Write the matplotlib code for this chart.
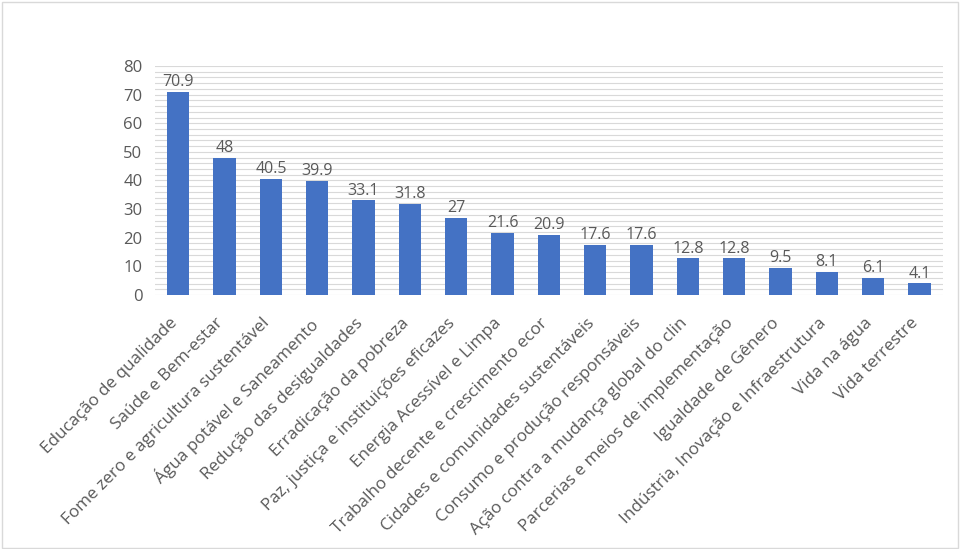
import matplotlib
matplotlib.use("Agg")
import matplotlib.pyplot as plt
from matplotlib.patches import Rectangle
from matplotlib.transforms import ScaledTranslation
import numpy as np

categories = [
    "Educação de qualidade",
    "Saúde e Bem-estar",
    "Fome zero e agricultura sustentável",
    "Água potável e Saneamento",
    "Redução das desigualdades",
    "Erradicação da pobreza",
    "Paz, justiça e instituições eficazes",
    "Energia Acessível e Limpa",
    "Trabalho decente e crescimento ecor",
    "Cidades e comunidades sustentáveis",
    "Consumo e produção responsáveis",
    "Ação contra a mudança global do clin",
    "Parcerias e meios de implementação",
    "Igualdade de Gênero",
    "Indústria, Inovação e Infraestrutura",
    "Vida na água",
    "Vida terrestre",
]
values = [70.9, 48, 40.5, 39.9, 33.1, 31.8, 27, 21.6, 20.9, 17.6, 17.6, 12.8, 12.8, 9.5, 8.1, 6.1, 4.1]
value_labels = ["70.9", "48", "40.5", "39.9", "33.1", "31.8", "27", "21.6", "20.9",
                "17.6", "17.6", "12.8", "12.8", "9.5", "8.1", "6.1", "4.1"]
yticks = [0, 10, 20, 30, 40, 50, 60, 70, 80]

plt.rcParams['font.family'] = ['Open Sans', 'DejaVu Sans']

fig = plt.figure(figsize=(9.6, 5.49), dpi=100)
fig.patches.append(Rectangle((0.002, 0.002), 0.996, 0.994, transform=fig.transFigure,
                             fill=False, edgecolor='#d9d9d9', linewidth=1))
ax = fig.add_axes([0.1615, 0.4627, 0.8205, 0.4171])

x = np.arange(len(categories))
bars = ax.bar(x, values, width=0.48, color='#4472C4', zorder=3)
for xi, v, lab in zip(x, values, value_labels):
    ax.text(xi, v + 0.6, lab, ha='center', va='bottom', fontsize=11.5, color='#595959', zorder=4)

ax.set_xlim(-0.5, len(categories) - 0.5)
ax.set_ylim(0, 80)
ax.set_yticks(yticks)
ax.set_yticks(np.arange(0, 81, 2), minor=True)
ax.grid(axis='y', which='both', color='#d9d9d9', linewidth=0.8, zorder=0)
ax.tick_params(axis='y', which='both', length=0, labelsize=12, labelcolor='#595959', pad=9)
ax.set_xticks(x)
ax.set_xticklabels(categories, rotation=45, ha='right', rotation_mode='anchor',
                   fontsize=12.3, color='#595959')
ax.tick_params(axis='x', length=0, pad=8)
offset = ScaledTranslation(-9 / 100, -9 / 100, fig.dpi_scale_trans)
for lbl in ax.get_xticklabels():
    lbl.set_transform(lbl.get_transform() + offset)
for s in ax.spines.values():
    s.set_visible(False)

fig.savefig("out.png", dpi=100)
